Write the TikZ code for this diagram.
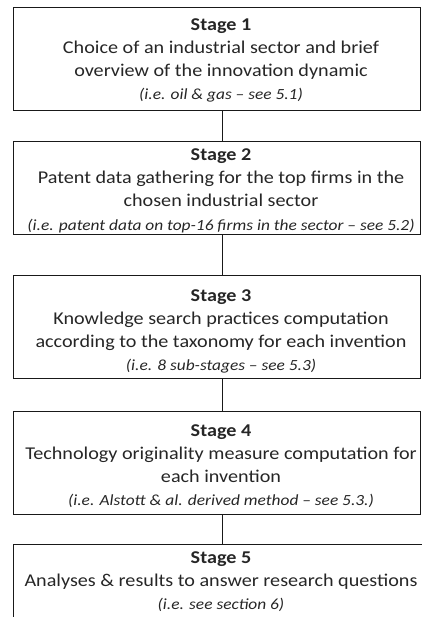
\documentclass[tikz,border=0pt]{standalone}
\usepackage{fontspec}
\setmainfont{Carlito}[FakeStretch=1.12]
\begin{document}
\begin{tikzpicture}[x=1pt,y=-1pt,
  box/.style={draw=black!90, line width=1pt, minimum width=407pt, inner sep=0pt},
  txt/.style={align=center, font=\fontsize{18}{23}\selectfont, text=black!85, inner sep=0pt, anchor=base},
  link/.style={draw=black!90, line width=1pt}]
\useasboundingbox (0,0) rectangle (421,617);
\node[box, minimum height=103pt] (b1) at (216.5,59.5) {};
\node[box, minimum height=93pt]  (b2) at (216.5,188.5) {};
\node[box, minimum height=103pt] (b3) at (216.5,326.5) {};
\node[box, minimum height=103pt] (b4) at (216.5,462.5) {};
\node[box, minimum height=116pt, minimum width=427pt] (b5) at (226.5,602) {};
\foreach \a/\b in {b1/b2,b2/b3,b3/b4,b4/b5}
  \draw[link] ([xshift=5.5pt]\a.south) -- ([xshift=5.5pt]\a.south |- \b.north);
\node[txt] (t1) at (221,100) {\textbf{Stage 1}\\Choice of an industrial sector and brief\\overview of the innovation dynamic\\{\fontsize{15.5}{22.5}\selectfont\itshape (i.e. oil \& gas -- see 5.1)}};
\node[txt] (t2) at (221,230) {\textbf{Stage 2}\\Patent data gathering for the top firms in the\\chosen industrial sector\\{\fontsize{15.5}{22}\selectfont\itshape (i.e. patent data on top-16 firms in the sector -- see 5.2)}};
\node[txt] (t3) at (221,370) {\textbf{Stage 3}\\Knowledge search practices computation\\according to the taxonomy for each invention\\{\fontsize{15.5}{24}\selectfont\itshape (i.e. 8 sub-stages -- see 5.3)}};
\node[txt] (t4) at (221,505) {\textbf{Stage 4}\\Technology originality measure computation for\\each invention\\{\fontsize{15.5}{24}\selectfont\itshape (i.e. Alstott \& al. derived method -- see 5.3.)}};
\node[txt] (t5) at (221,609) {\textbf{Stage 5}\\Analyses \& results to answer research questions\\{\fontsize{15.5}{22}\selectfont\itshape (i.e. see section 6)}};
\end{tikzpicture}
\end{document}
